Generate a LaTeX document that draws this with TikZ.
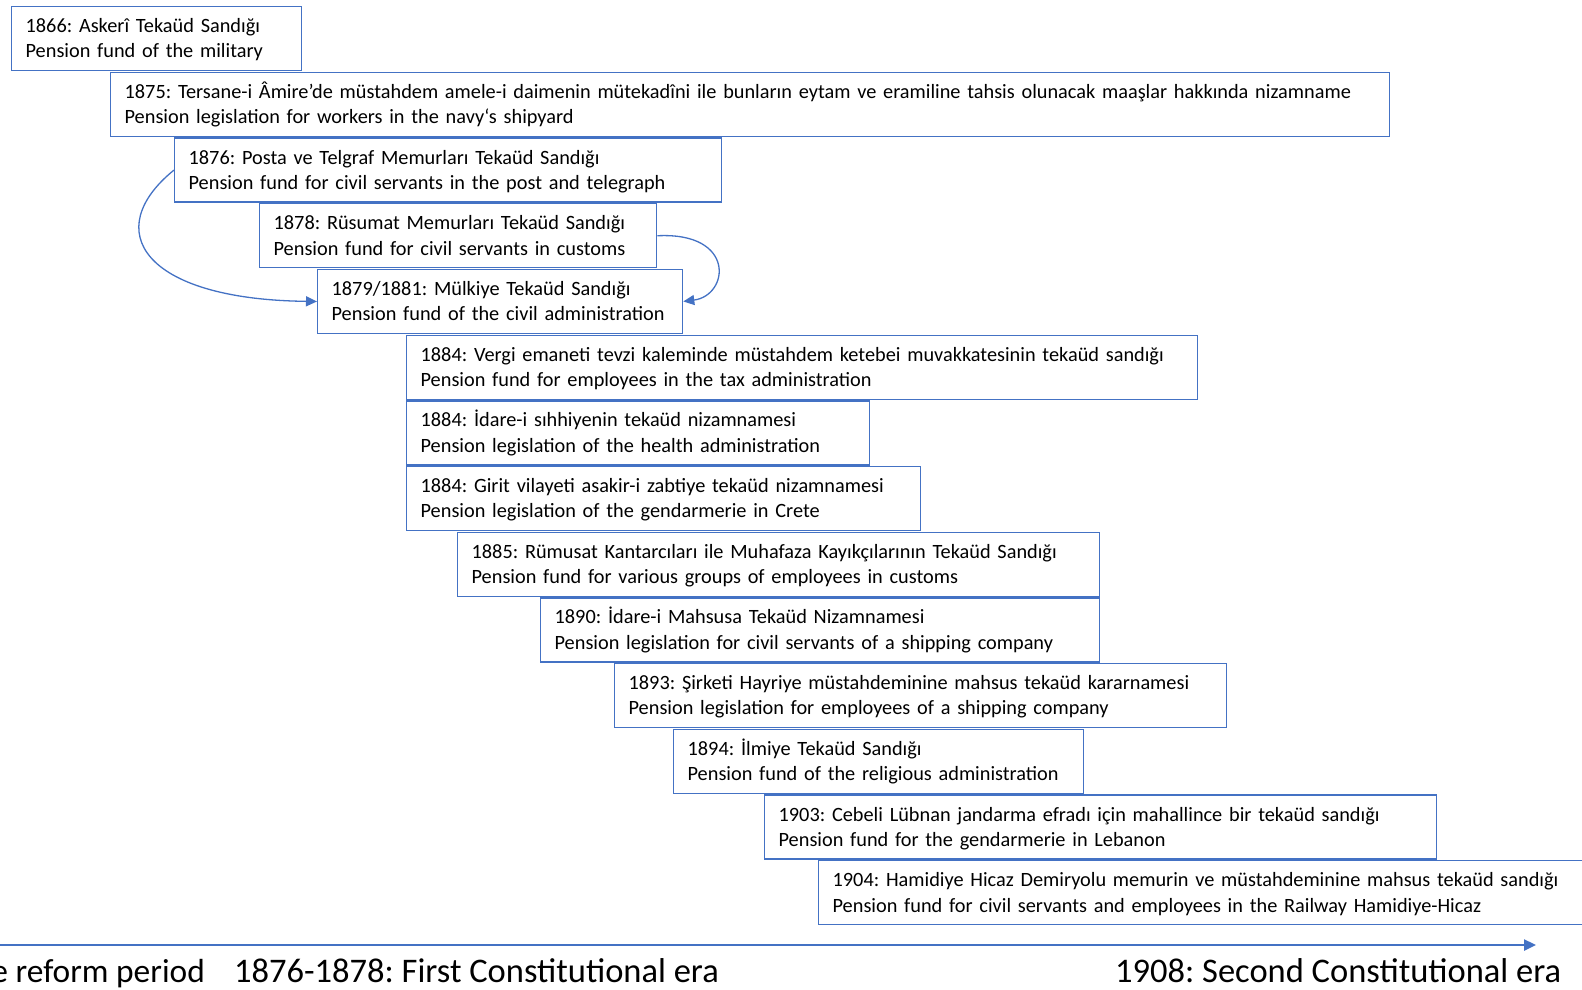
\documentclass[tikz,border=0pt]{standalone}
\usepackage{fontspec}
\setmainfont{Carlito}
\usetikzlibrary{arrows.meta}

\definecolor{lineblue}{HTML}{4472C4}

\tikzset{
    fund/.style={draw=lineblue, line width=1.3pt, anchor=north west, align=left,
        minimum height=64pt, inner xsep=14pt, inner ysep=0pt,
        text height=18.5pt, text depth=30.5pt,
        font=\fontsize{20.3}{25.3}\selectfont},
    link/.style={draw=lineblue, line width=1.3pt, -{Triangle[length=11pt,width=10pt]}},
    axis/.style={draw=lineblue, line width=2.4pt, -{Triangle[length=12pt,width=11pt]}},
    era/.style={inner sep=0pt, font=\fontsize{34.5}{40}\selectfont}
}

\begin{document}
\frenchspacing
\hyphenpenalty=10000
\begin{tikzpicture}[x=1pt, y=-1pt]
        \def \s {65.7}

        \useasboundingbox (0,0) rectangle (1582,989);

        \node[fund, text width=262pt] (askeri) at (11, 6+0*\s) {1866: Askerî Tekaüd Sandığı\\Pension fund of the military};
        \node[fund, text width=1251pt] (tersane) at (110, 6+1*\s) {1875: Tersane-i Âmire’de müstahdem amele-i daimenin mütekadîni ile bunların eytam ve eramiline tahsis olunacak maaşlar hakkında nizamname\\Pension legislation for workers in the navy‘s shipyard};
        \node[fund, text width=519pt] (posta) at (174, 6+2*\s) {1876: Posta ve Telgraf Memurları Tekaüd Sandığı\\Pension fund for civil servants in the post and telegraph};
        \node[fund, text width=369pt] (rusumat) at (259, 6+3*\s) {1878: Rüsumat Memurları Tekaüd Sandığı\\Pension fund for civil servants in customs};
        \node[fund, text width=337pt] (mulkiye) at (317, 6+4*\s) {1879/1881: Mülkiye Tekaüd Sandığı\\Pension fund of the civil administration};
        \node[fund, text width=763pt] (vergi) at (406, 6+5*\s) {1884: Vergi emaneti tevzi kaleminde müstahdem ketebei muvakkatesinin tekaüd sandığı\\Pension fund for employees in the tax administration};
        \node[fund, text width=435pt] (sihhiye) at (406, 6+6*\s) {1884: İdare-i sıhhiyenin tekaüd nizamnamesi\\Pension legislation of the health administration};
        \node[fund, text width=486pt] (girit) at (406, 6+7*\s) {1884: Girit vilayeti asakir-i zabtiye tekaüd nizamnamesi\\Pension legislation of the gendarmerie in Crete};
        \node[fund, text width=614pt] (kantar) at (457, 6+8*\s) {1885: Rümusat Kantarcıları ile Muhafaza Kayıkçılarının Tekaüd Sandığı\\Pension fund for various groups of employees in customs};
        \node[fund, text width=531pt] (mahsusa) at (540, 6+9*\s) {1890: İdare-i Mahsusa Tekaüd Nizamnamesi\\Pension legislation for civil servants of a shipping company};
        \node[fund, text width=584pt] (hayriye) at (614, 6+10*\s) {1893: Şirketi Hayriye müstahdeminine mahsus tekaüd kararnamesi\\Pension legislation for employees of a shipping company};
        \node[fund, text width=382pt] (ilmiye) at (673, 6+11*\s) {1894: İlmiye Tekaüd Sandığı\\Pension fund of the religious administration};
        \node[fund, text width=644pt] (lubnan) at (764, 6+12*\s) {1903: Cebeli Lübnan jandarma efradı için mahallince bir tekaüd sandığı\\Pension fund for the gendarmerie in Lebanon};
        \node[fund, text width=754pt] (hicaz) at (818, 6+13*\s) {1904: Hamidiye Hicaz Demiryolu memurin ve müstahdeminine mahsus tekaüd sandığı\\Pension fund for civil servants and employees in the Railway Hamidiye-Hicaz};

        \draw[link] (posta.west) .. controls +(-74,60) and +(-175,-2) .. (mulkiye.west);
        \draw[link] (rusumat.east) .. controls +(79,-4) and +(46,-6) .. (mulkiye.east);

        \coordinate (axisstart) at (-5,945);
        \coordinate (axisend) at (1536,945);
        \draw[axis] (axisstart) -- (axisend);

        \node[era, anchor=base east, font=\fontsize{33.4}{40}\selectfont] (tanzimat) at (205,982) {e reform period};
        \node[era, anchor=base west] (first) at (234,982) {1876-1878: First Constitutional era};
        \node[era, anchor=base west] (second) at (1115,982) {1908: Second Constitutional era};
    \end{tikzpicture}
\end{document}
